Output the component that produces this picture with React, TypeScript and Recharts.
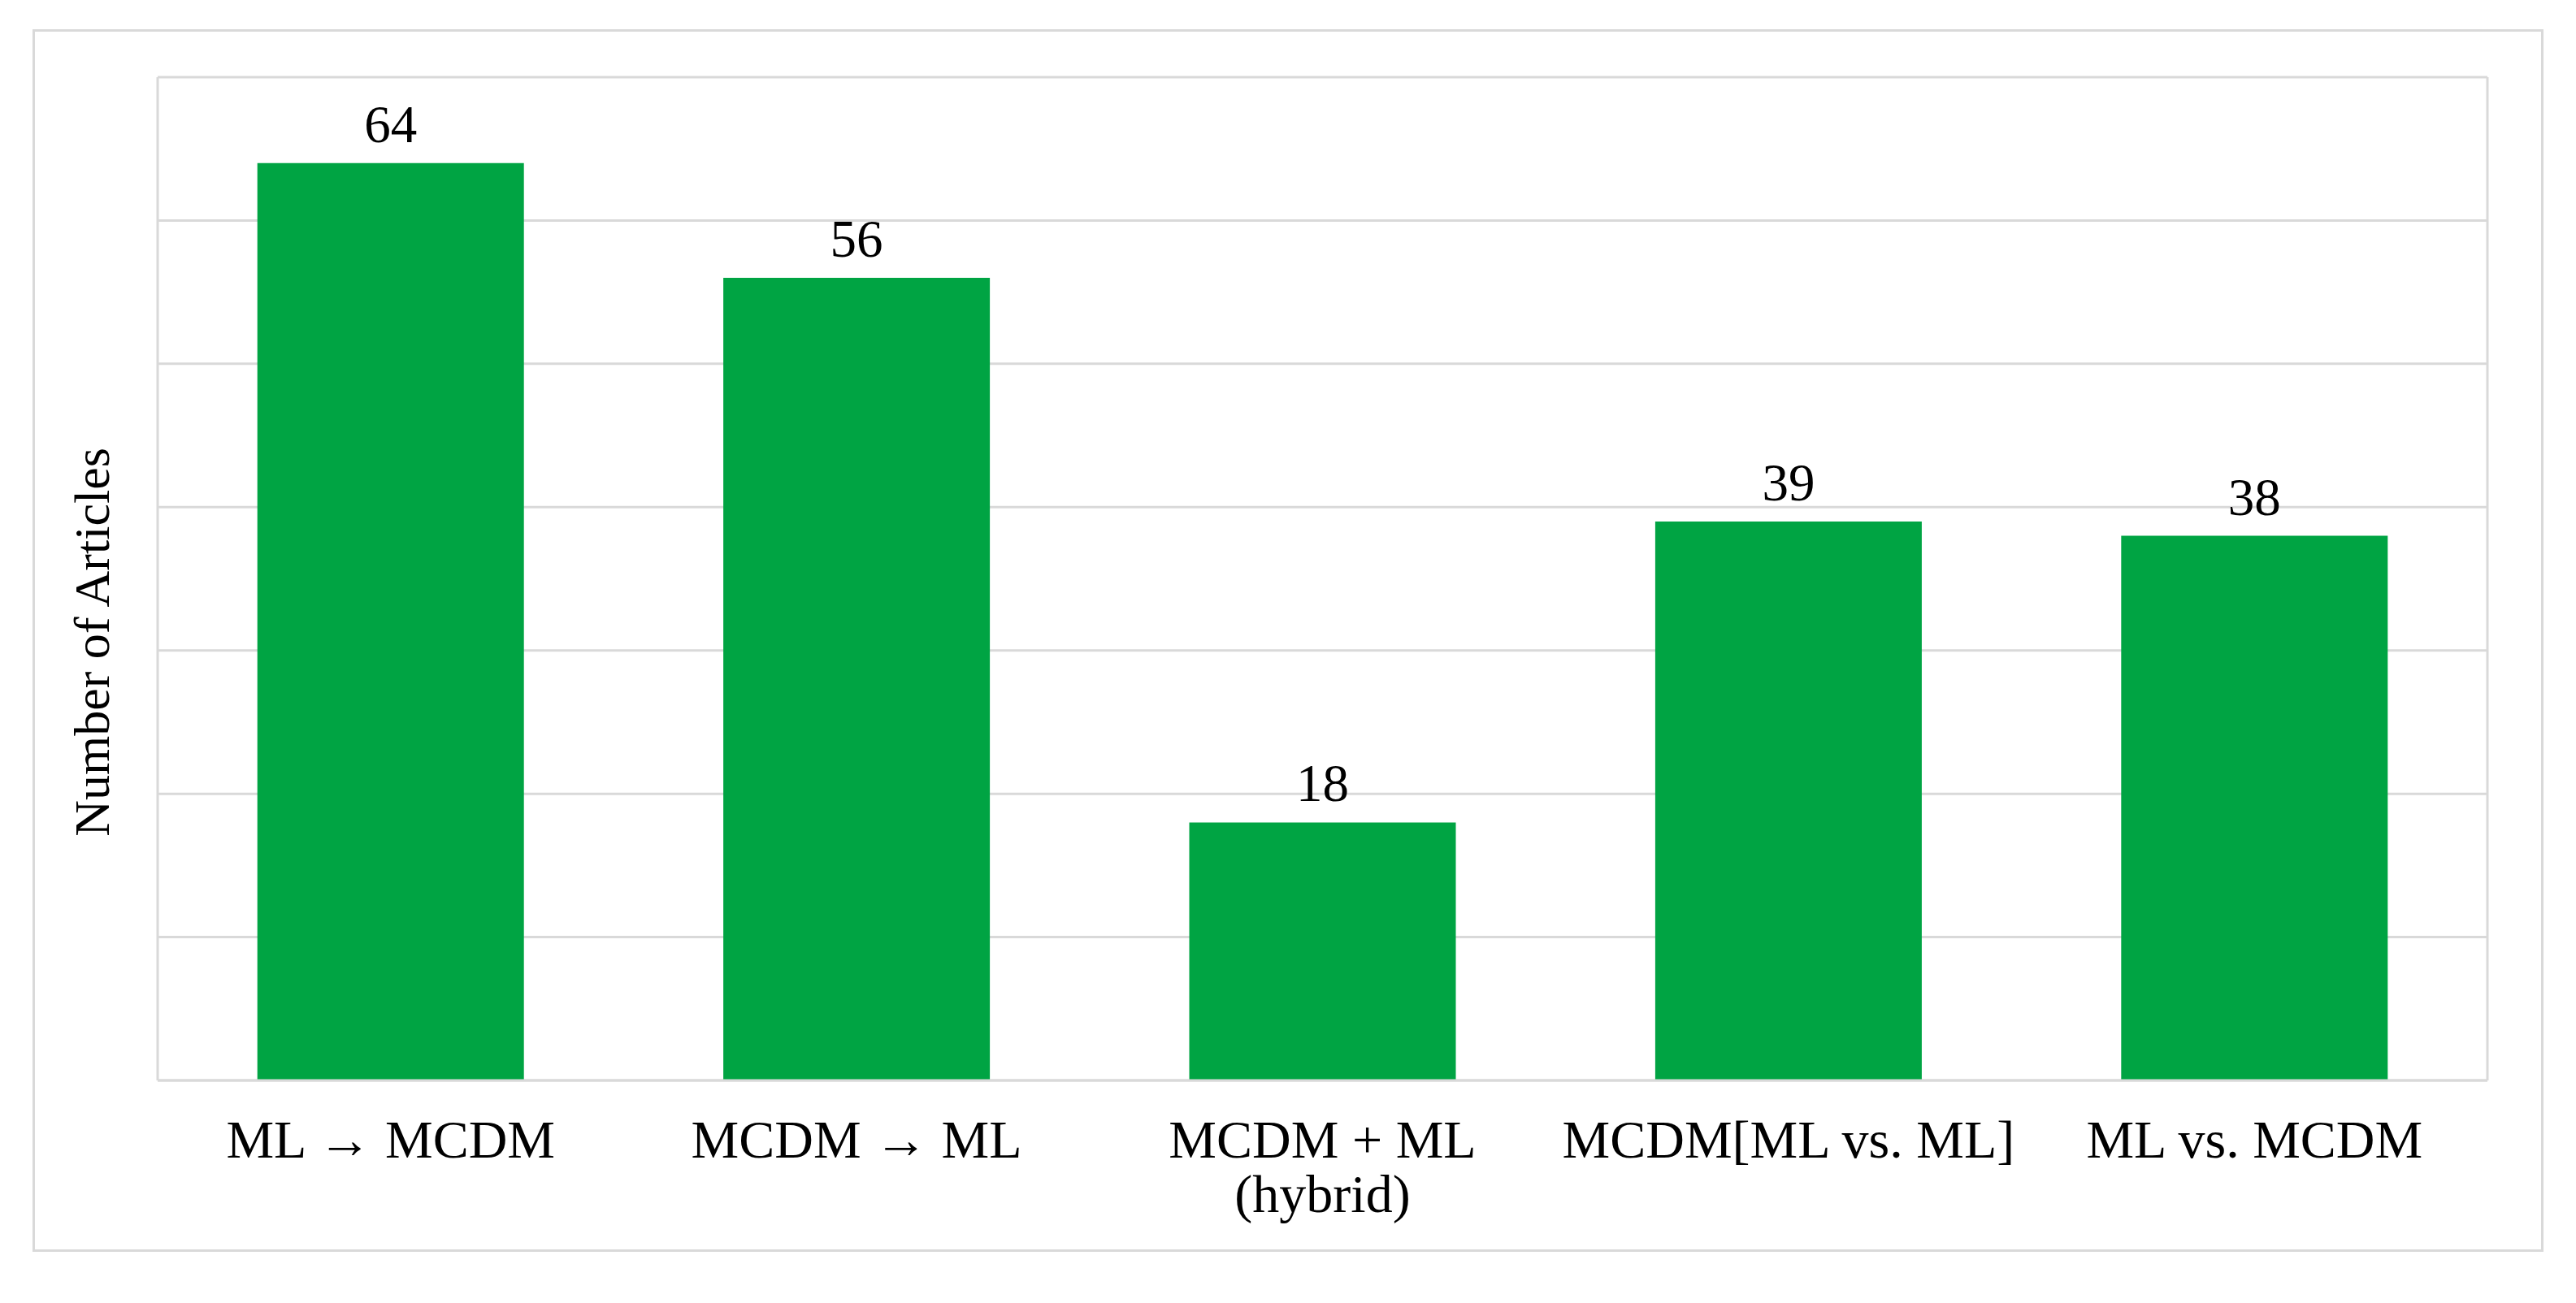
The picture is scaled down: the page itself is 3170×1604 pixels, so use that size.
import { BarChart, Bar, XAxis, YAxis, CartesianGrid, LabelList, Label } from "recharts";

const categories = ["ML → MCDM", "MCDM → ML", "MCDM + ML\n(hybrid)", "MCDM[ML vs. ML]", "ML vs. MCDM"];
const articles = [64, 56, 18, 39, 38];
const yTicks = [0, 10, 20, 30, 40, 50, 60, 70];

const data = categories.map((name, i) => ({ name, articles: articles[i] }));

const FONT = '"Liberation Serif", "Times New Roman", serif';
const GRID = "#d9d9d9";

function CategoryTick(props: any) {
  const { x, y, payload } = props;
  const lines = String(payload.value).split("\n");
  return (
    <text x={x} y={y} textAnchor="middle" fontFamily={FONT} fontSize={66} fill="#000">
      {lines.map((line, i) => (
        <tspan key={i} x={x} y={y + 87 + i * 67}>
          {line}
        </tspan>
      ))}
    </text>
  );
}

function YTitle(props: any) {
  const { viewBox } = props;
  const cx = 113;
  // the title sits a little below the middle of the plot in the original
  const cy = viewBox.y + viewBox.height / 2 + 78;
  return (
    <text
      x={cx}
      y={cy}
      transform={`rotate(-90, ${cx}, ${cy})`}
      textAnchor="middle"
      dominantBaseline="central"
      fontFamily={FONT}
      fontSize={62}
      fill="#000"
    >
      Number of Articles
    </text>
  );
}

export default function App() {
  return (
    <div style={{ position: "relative", width: 3170, height: 1604, margin: -8, background: "#fff" }}>
      <div
        style={{
          position: "absolute",
          left: 40,
          top: 36,
          width: 3084,
          height: 1499,
          border: `3px solid ${GRID}`,
        }}
      />
      <div style={{ position: "absolute", left: 0, top: 0 }}>
        <BarChart
          width={3170}
          height={1604}
          data={data}
          margin={{ top: 95, right: 0, bottom: 74, left: 0 }}
          barCategoryGap="21.4%"
        >
          <CartesianGrid vertical={false} stroke={GRID} strokeWidth={3} />
          <XAxis
            dataKey="name"
            height={200}
            axisLine={{ stroke: GRID, strokeWidth: 3 }}
            tickLine={false}
            tick={<CategoryTick />}
            interval={0}
          />
          <YAxis
            domain={[0, 70]}
            ticks={yTicks}
            width={194}
            tick={() => null}
            tickLine={false}
            axisLine={{ stroke: GRID, strokeWidth: 3 }}
          >
            <Label content={<YTitle />} />
          </YAxis>
          <YAxis
            yAxisId="right"
            orientation="right"
            domain={[0, 70]}
            ticks={yTicks}
            width={109}
            tick={() => null}
            tickLine={false}
            axisLine={{ stroke: GRID, strokeWidth: 3 }}
          />
          <Bar dataKey="articles" fill="#00a443" isAnimationActive={false}>
            <LabelList
              dataKey="articles"
              position="top"
              offset={26}
              fontFamily={FONT}
              fontSize={65}
              fill="#000"
            />
          </Bar>
        </BarChart>
      </div>
    </div>
  );
}
